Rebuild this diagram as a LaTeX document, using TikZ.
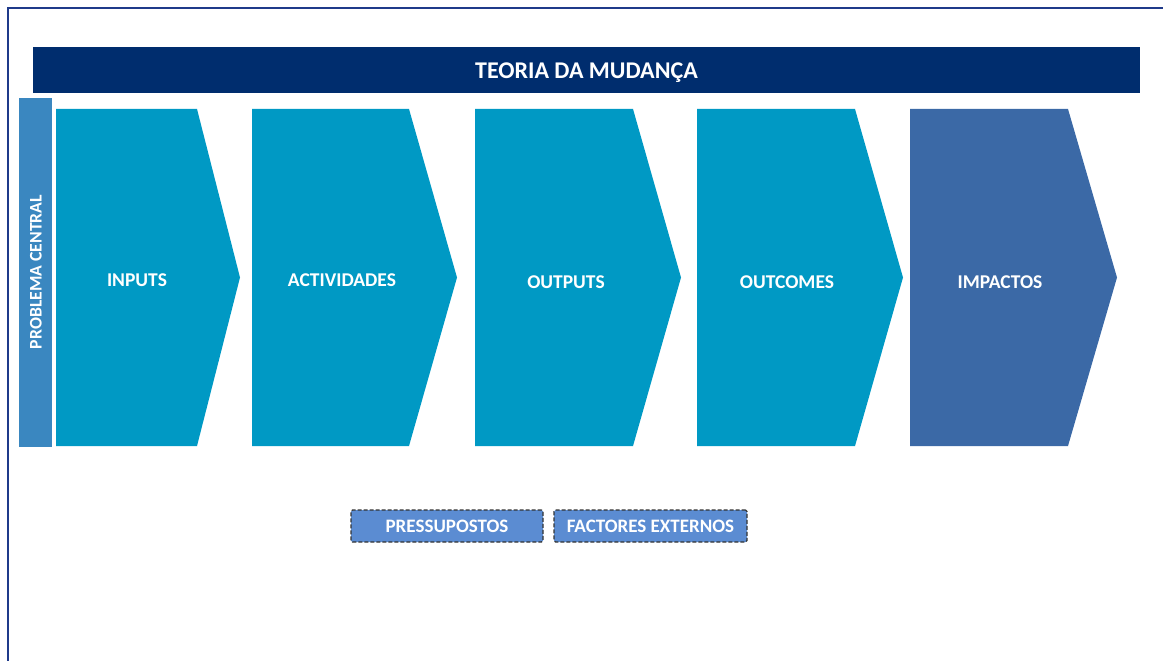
\documentclass[tikz,border=0pt]{standalone}
\usepackage{fontspec}
\setmainfont{Carlito}
\definecolor{navy}{HTML}{002D6E}
\definecolor{probc}{HTML}{3A87C0}
\definecolor{chev}{HTML}{0099C4}
\definecolor{impc}{HTML}{3B69A6}
\definecolor{dashc}{HTML}{5B8CD2}
\definecolor{framec}{HTML}{1F3A8A}
\begin{document}
\begin{tikzpicture}[x=1pt,y=-1pt,
  lbl/.style={text=white,font=\bfseries\fontsize{19.5}{21}\selectfont},
  dashbox/.style={draw=black!80,dash pattern=on 4pt off 2pt,line width=1.2pt,fill=dashc,rounded corners=1.5pt,
    text=white,font=\bfseries\fontsize{19}{21}\selectfont,minimum height=32pt,inner sep=0pt}]
\useasboundingbox (0,0) rectangle (1163,661);
\draw[framec,line width=1.5pt] (8,700) -- (8,8) -- (1200,8);
% title
\fill[navy] (33,47) rectangle (1140,93);
\node[lbl,font=\bfseries\fontsize{24}{26}\selectfont] (title) at (586.5,73) {TEORIA DA MUDANÇA};
% problema central
\fill[probc] (19,98) rectangle (52,447);
\node[lbl,font=\bfseries\fontsize{17.7}{19}\selectfont,rotate=90] (prob) at (36,272) {PROBLEMA CENTRAL};
% chevrons
\fill[chev] (56,109) -- (197,109) -- (240,277.5) -- (197,446) -- (56,446) -- cycle;
\fill[chev] (252,109) -- (409,109) -- (457,277.5) -- (409,446) -- (252,446) -- cycle;
\fill[chev] (475,109) -- (633,109) -- (681,277.5) -- (633,446) -- (475,446) -- cycle;
\fill[chev] (697,109) -- (855,109) -- (903,277.5) -- (855,446) -- (697,446) -- cycle;
\fill[impc] (910,109) -- (1068,109) -- (1117,277.5) -- (1068,446) -- (910,446) -- cycle;
\node[lbl] (inputs) at (137,280) {INPUTS};
\node[lbl] (activ) at (342,280) {ACTIVIDADES};
\node[lbl] (outputs) at (566,282) {OUTPUTS};
\node[lbl] (outcomes) at (787,282) {OUTCOMES};
\node[lbl] (impactos) at (1000,282) {IMPACTOS};
% dashed boxes
\node[dashbox,minimum width=192pt] (press) at (447,526) {PRESSUPOSTOS};
\node[dashbox,minimum width=193pt] (fact) at (650.5,526) {FACTORES EXTERNOS};
\end{tikzpicture}
\end{document}
